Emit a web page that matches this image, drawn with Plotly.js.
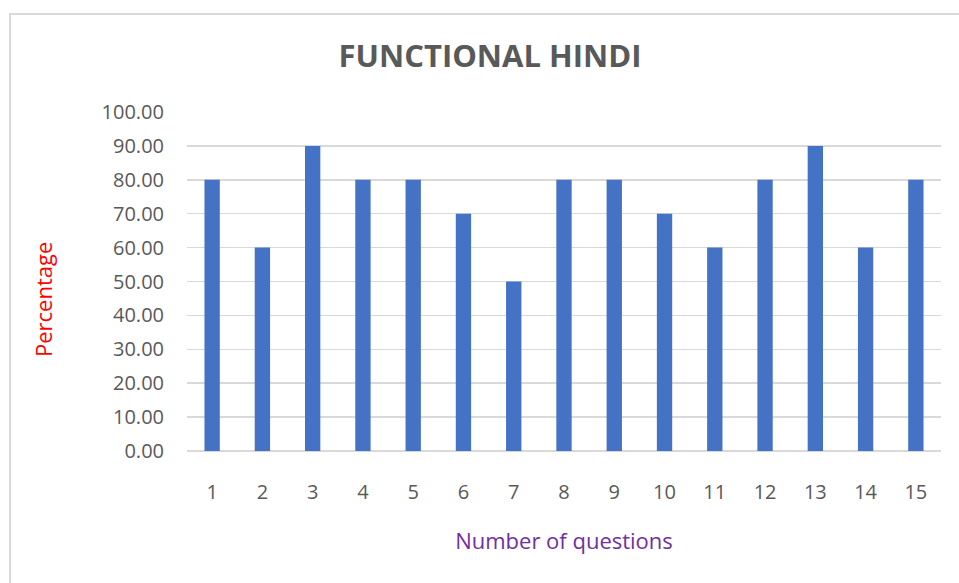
<!DOCTYPE html>
<html>
<head>
<meta charset="utf-8">
<script src="https://cdn.plot.ly/plotly-3.0.1.min.js"></script>
<style>
  html, body { margin: 0; padding: 0; background: #ffffff; overflow: hidden; }
  #chart { position: absolute; left: 0; top: 0; width: 959px; height: 583px; }
  #frame { position: absolute; left: 9px; top: 13px; width: 1000px; height: 700px;
           border: 2px solid #d9d9d9; pointer-events: none; box-sizing: border-box; }
</style>
</head>
<body>
<div id="chart"></div>
<div id="frame"></div>
<script>
const questions = ["1","2","3","4","5","6","7","8","9","10","11","12","13","14","15"];
const percentages = [80, 60, 90, 80, 80, 70, 50, 80, 80, 70, 60, 80, 90, 60, 80];
const yTicks = [0, 10, 20, 30, 40, 50, 60, 70, 80, 90, 100];
const yTickLabels = ["0.00","10.00","20.00","30.00","40.00","50.00","60.00","70.00","80.00","90.00","100.00"];

const FONT = "'Open Sans', 'Noto Sans', sans-serif";

const data = [{
  type: 'bar',
  x: questions,
  y: percentages,
  marker: { color: '#4472C4' },
  hoverinfo: 'x+y'
}];

const layout = {
  width: 959,
  height: 583,
  margin: { l: 187, r: 18, t: 112, b: 132, pad: 0 },
  paper_bgcolor: '#ffffff',
  plot_bgcolor: '#ffffff',
  bargap: 0.695,
  showlegend: false,
  font: { family: FONT, color: '#595959', size: 20 },
  title: {
    text: '<b>FUNCTIONAL HINDI</b>',
    font: { family: FONT, size: 31, color: '#595959' },
    xref: 'container', x: 490 / 959, xanchor: 'center',
    yref: 'container', y: 1 - 56 / 583, yanchor: 'middle'
  },
  xaxis: {
    type: 'category',
    showgrid: false,
    zeroline: false,
    showline: false,
    ticks: '',
    ticklabelstandoff: 27,
    tickfont: { family: FONT, size: 20, color: '#595959' },
    title: {
      text: 'Number of questions',
      font: { family: FONT, size: 22, color: '#7030A0' },
      standoff: 29
    },
    automargin: false
  },
  yaxis: {
    range: [0, 100],
    tickvals: yTicks,
    ticktext: yTickLabels,
    showgrid: true,
    gridcolor: '#d9d9d9',
    gridwidth: 1.5,
    zeroline: true,
    zerolinecolor: '#d9d9d9',
    zerolinewidth: 2,
    showline: false,
    ticks: '',
    ticklabelstandoff: 22,
    tickfont: { family: FONT, size: 20, color: '#595959' },
    automargin: false
  },
  annotations: [{
    text: 'Percentage',
    textangle: -90,
    font: { family: FONT, size: 22, color: '#FF0000' },
    xref: 'paper', x: (43 - 187) / 754, xanchor: 'center',
    yref: 'paper', y: (451 - 300) / 339, yanchor: 'middle',
    showarrow: false
  }]
};

Plotly.newPlot('chart', data, layout, { displayModeBar: false, staticPlot: true });
</script>
</body>
</html>
